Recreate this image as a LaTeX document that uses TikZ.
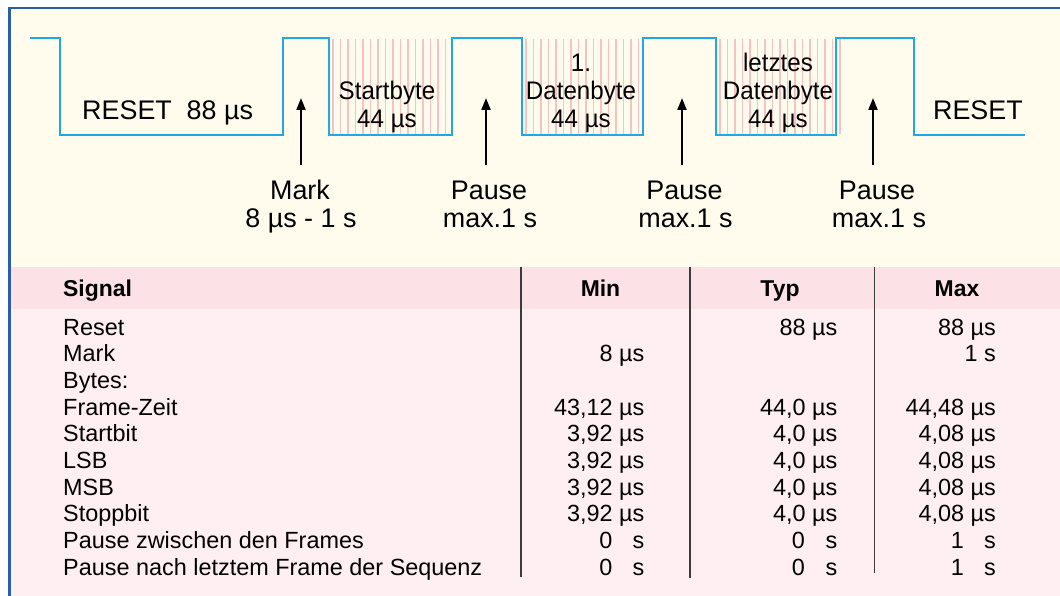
\documentclass[tikz,border=0pt]{standalone}
\usepackage{fontspec}
\setmainfont{Liberation Sans}
\newfontfamily\condfont[FakeStretch=0.95]{Liberation Sans}
\usetikzlibrary{arrows.meta}
\definecolor{cream}{HTML}{FFFCEE}
\definecolor{headpink}{HTML}{FCE1E6}
\definecolor{bodypink}{HTML}{FFEEF2}
\definecolor{wavecyan}{HTML}{1FA9E4}
\definecolor{stripepink}{HTML}{F6C2C4}
\definecolor{borderblue}{HTML}{2F5CA6}
\definecolor{sepgray}{HTML}{3C3C3C}
\tikzset{
  big/.style={font=\fontsize{27}{28}\selectfont, inner sep=0pt, anchor=base},
  cond/.style={font=\condfont\fontsize{25.5}{28}\selectfont, inner sep=0pt, anchor=base},
  tab/.style={font=\fontsize{23.5}{27}\selectfont, inner sep=0pt, anchor=base west},
  num/.style={font=\fontsize{23.5}{27}\selectfont, inner sep=0pt, anchor=base east},
  head/.style={font=\bfseries\fontsize{23}{27}\selectfont, inner sep=0pt, anchor=base},
  wave/.style={draw=wavecyan, line width=2.4bp, line join=miter},
  stripe/.style={draw=stripepink, line width=1.6bp},
  arr/.style={-{Triangle[length=12bp,width=9bp]}, line width=2bp, draw=black},
  sep/.style={draw=sepgray, line width=1.5bp},
}
\begin{document}
\begin{tikzpicture}[x=1bp,y=-1bp]
\useasboundingbox (0,0) rectangle (1060,596);
\fill[white] (0,0) rectangle (1060,596);
\fill[cream] (9.5,8) rectangle (1060,267);
\fill[headpink] (9.5,267) rectangle (1060,309);
\fill[bodypink] (9.5,309) rectangle (1060,596);
\draw[borderblue, line width=2.5bp] (9.5,596) -- (9.5,8) -- (1060,8);
% hatching of the byte frames
\foreach \x in {333,340.5,...,451} \draw[stripe] (\x,39.5) -- (\x,134);
\foreach \x in {526,533.5,...,642} \draw[stripe] (\x,39.5) -- (\x,134);
\foreach \x in {720,727.5,...,841} \draw[stripe] (\x,39.5) -- (\x,134);
% waveform
\draw[wave] (30,38) -- (60,38) -- (60,135) -- (283,135) -- (283,38) -- (329,38)
  -- (329,135) -- (452,135) -- (452,38) -- (522,38) -- (522,135) -- (643,135)
  -- (643,38) -- (716,38) -- (716,135) -- (836,135) -- (836,38) -- (914,38)
  -- (914,135) -- (1025,135);
% waveform labels
\node[big, anchor=base west] (reset1) at (82,120) {RESET\hspace{0.55em}88 µs};
\node[big, anchor=base east] (reset2) at (1023,120) {RESET};
\node[cond] (sb1) at (387,100) {Startbyte};
\node[cond] (sb2) at (387,128) {44 µs};
\node[cond] (db0) at (581,72) {1.};
\node[cond] (db1) at (581,100) {Datenbyte};
\node[cond] (db2) at (581,128) {44 µs};
\node[cond] (lb0) at (778,72) {letztes};
\node[cond] (lb1) at (778,100) {Datenbyte};
\node[cond] (lb2) at (778,128) {44 µs};
% arrow labels
\node[big] (mark1) at (300,200) {Mark};
\node[big] (mark2) at (301,228) {8 µs - 1 s};
\node[big] (pa1) at (489,200) {Pause};
\node[big] (pa2) at (490,228) {max.1 s};
\node[big] (pb1) at (684.5,200) {Pause};
\node[big] (pb2) at (685.5,228) {max.1 s};
\node[big] (pc1) at (877,200) {Pause};
\node[big] (pc2) at (879,228) {max.1 s};
\coordinate (ma) at (301,165); \coordinate (mt) at (301,98);
\coordinate (aa) at (486,165); \coordinate (at1) at (486,98);
\coordinate (ba) at (682,165); \coordinate (bt) at (682,98);
\coordinate (ca) at (873,165); \coordinate (ct) at (873,98);
\draw[arr] (ma) -- (mt);
\draw[arr] (aa) -- (at1);
\draw[arr] (ba) -- (bt);
\draw[arr] (ca) -- (ct);
% table
\draw[sep] (521,267) -- (521,577);
\draw[sep] (690,267) -- (690,578);
\draw[sep] (874.3,267) -- (874.3,573);
\node[head, anchor=base west] (hs) at (63,297) {Signal};
\node[head] (hmin) at (600.5,297) {Min};
\node[head] (htyp) at (780,297) {Typ};
\node[head] (hmax) at (957,297) {Max};
\foreach \t [count=\i] in {Reset,Mark,Bytes:,Frame-Zeit,Startbit,LSB,MSB,Stoppbit,Pause zwischen den Frames,Pause nach letztem Frame der Sequenz}
  \node[tab] (row\i) at (63,{335+26.67*(\i-1)}) {\t};
\node[num] (typ1) at (837.5,335) {88 µs};
\node[num] (max1) at (996,335) {88 µs};
\node[num] (min2) at (644.5,361.67) {8 µs};
\node[num] (max2) at (996,361.67) {1 s};
\node[num] (min4) at (644.5,415) {43,12 µs};
\node[num] (typ4) at (837.5,415) {44,0 µs};
\node[num] (max4) at (996,415) {44,48 µs};
\foreach \i in {5,6,7,8} {
  \node[num] (min\i) at (644.5,{335+26.67*(\i-1)}) {3,92 µs};
  \node[num] (typ\i) at (837.5,{335+26.67*(\i-1)}) {4,0 µs};
  \node[num] (max\i) at (996,{335+26.67*(\i-1)}) {4,08 µs};
}
\foreach \i in {9,10} {
  \node[num] (minn\i) at (612.5,{335+26.67*(\i-1)}) {0};
  \node[num] (minu\i) at (644.5,{335+26.67*(\i-1)}) {s};
  \node[num] (typn\i) at (805,{335+26.67*(\i-1)}) {0};
  \node[num] (typu\i) at (837.5,{335+26.67*(\i-1)}) {s};
  \node[num] (maxn\i) at (964,{335+26.67*(\i-1)}) {1};
  \node[num] (maxu\i) at (996,{335+26.67*(\i-1)}) {s};
}
\end{tikzpicture}
\end{document}
